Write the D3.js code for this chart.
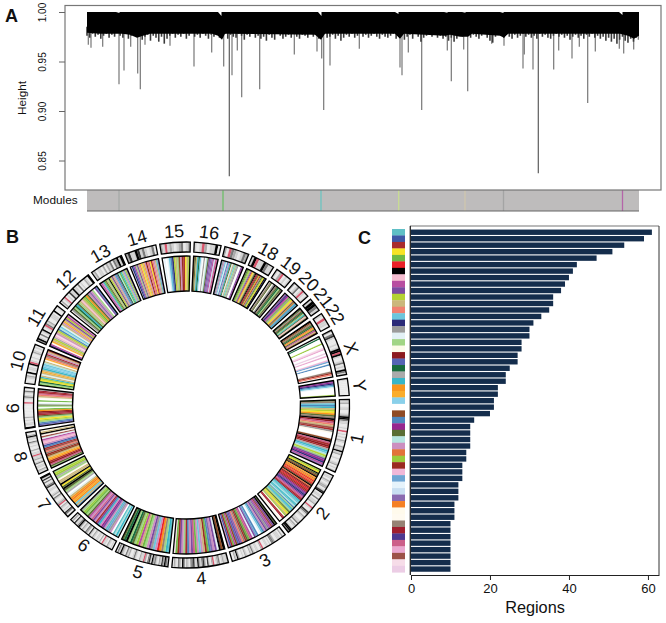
<!DOCTYPE html>
<html>
<head>
<meta charset="utf-8">
<script src="https://cdn.jsdelivr.net/npm/d3@7"></script>
<style>
  body { margin: 0; background: #fff; }
  text { font-family: "Liberation Sans", Arial, sans-serif; fill: #111; }
</style>
</head>
<body>
<svg id="fig" width="666" height="623"></svg>
<script>
// panel A: leaf rank and merge height of the long dendrogram branches
var spikeLeaves = [13, 40, 157, 320, 370, 507, 533, 437, 580, 830, 1070, 1247, 1367, 1423, 1450, 1503, 1547, 1727, 2073, 2300, 2347, 2367, 2430, 2723, 3130, 3150, 3213, 3347, 3603, 3643, 3767, 3807, 4047, 4170, 4360, 4373, 4460, 4513, 4667, 4717, 4850, 4923, 5007, 5083, 5323, 5367, 5467, 5513];
var spikeHeights = [0.967, 0.964, 0.965, 0.927, 0.941, 0.938, 0.922, 0.965, 0.967, 0.966, 0.945, 0.959, 0.945, 0.834, 0.936, 0.961, 0.914, 0.922, 0.957, 0.96, 0.953, 0.901, 0.946, 0.963, 0.944, 0.936, 0.959, 0.901, 0.961, 0.93, 0.962, 0.92, 0.968, 0.966, 0.943, 0.957, 0.942, 0.837, 0.942, 0.961, 0.953, 0.965, 0.908, 0.96, 0.963, 0.958, 0.962, 0.972];

// lower edge of the solid part of the dendrogram
var baseLeaves = [0, 130, 300, 350, 430, 500, 560, 630, 1130, 1250, 1310, 1350, 1380, 2280, 2340, 2380, 3080, 3130, 3170, 3580, 3630, 3730, 3810, 3850, 4130, 4170, 4210, 5330, 5410, 5470, 5520];
var baseHeights = [0.979, 0.978, 0.978, 0.978, 0.977, 0.974, 0.976, 0.978, 0.978, 0.978, 0.976, 0.972, 0.978, 0.977, 0.972, 0.978, 0.978, 0.973, 0.978, 0.976, 0.977, 0.975, 0.975, 0.978, 0.976, 0.974, 0.978, 0.978, 0.976, 0.973, 0.976];

// the short grey branches under the solid part, left to right
var fringeHeights = [976, 974, 978, 975, 977, 973, 976, 978, 974, 977, 975, 979, 976, 974, 978, 973, 976, 978, 975, 977, 972, 975, 977, 971, 976, 974, 970, 975, 968, 973, 976, 978, 974, 977, 975, 978, 973, 976, 979, 975, 977, 974, 978, 976, 973, 977, 975, 979, 974, 976, 978, 973, 977, 975, 974, 978, 976, 972, 977, 975, 978, 974, 976, 973, 975, 971, 977, 974, 972, 978, 976, 973, 975, 977, 974, 978, 975, 973, 977, 976, 974, 978, 975, 977, 973, 976, 978, 974, 975, 977, 973, 976, 971, 974, 977, 975, 978, 974, 976, 979, 975, 977, 974, 976, 978, 975, 973, 977, 975, 974, 976, 978, 973, 975, 977, 972, 975, 977, 973, 978, 975, 970, 974, 976, 978, 975, 977, 974, 976, 973, 975, 971, 974, 970, 973, 977, 975, 978, 976, 974, 977, 975, 973, 976, 978, 974, 971, 969, 975, 978, 976, 974, 977, 975, 973, 977, 974, 976, 978, 975, 977, 974, 976, 973, 978, 975, 977, 974, 973, 976, 978, 975, 977, 974, 976, 972, 975, 977, 974, 976, 973, 977, 975, 978, 974, 976, 973, 975, 971, 974, 970, 973, 968, 972, 975, 971, 969, 973, 970, 974];

// small white gaps at the top of the dendrogram
var notchLeaves = [320, 1340, 2340, 3110, 3600, 3780, 4160, 5350];
var notchHeights = [0.999, 0.996, 0.996, 0.998, 0.9993, 0.9993, 0.999, 0.997];

// module colour strip
var moduleLeaves = [320, 1360, 2340, 3117, 3780, 4165, 5355];
var moduleStripes = ["#a6aaa8", "#6cbf68", "#6cc4c0", "#c9dd92", "#cfc6ae", "#a4a4a4", "#b565a9"];
var yTicks = [0.85, 0.9, 0.95, 1];

// panel C
var regionCounts = [61, 59, 54, 51, 47, 42, 41, 40, 39, 38, 36, 36, 35, 33, 31, 30, 30, 28, 28, 27, 27, 25, 24, 24, 22, 22, 21, 21, 20, 16, 15, 15, 15, 15, 14, 14, 13, 13, 13, 12, 12, 12, 11, 11, 11, 10, 10, 10, 10, 10, 10, 10, 10];
var moduleColors = ["#5fbfc6", "#3f57a6", "#a92b2d", "#f7e326", "#6fb944", "#ea2027", "#000000", "#f6bdd1", "#b84ea1", "#7b4ba1", "#b4d334", "#cbb77c", "#f08070", "#6dc6dc", "#2b2a78", "#9b9b9b", "#e3f1f6", "#a1d585", "#fcfbea", "#8c1a1f", "#5665b5", "#186b3d", "#ababab", "#37b6c8", "#f7941d", "#fbad2b", "#8ad0ea", "#ffffff", "#8f4a24", "#4f87bd", "#97268f", "#5a6e34", "#b5e4e0", "#cc8fc0", "#e2733a", "#9acb3c", "#9a2a20", "#f1b8d8", "#6fa5d3", "#e6f3fb", "#c9dff2", "#8a6ab0", "#f58025", "#fffaec", "#fffaf0", "#968274", "#a01e2e", "#4e3890", "#cc5f8a", "#eaa8d0", "#9c5248", "#f6dce8", "#eccde5"];
var moduleCodes = "abcdefghijklmnopqrstuvwxyzA.BCDEFGHIJKLMNOPQRSTUVWXYZ";
var xTicks = [0, 20, 40, 60];

// panel B
var chromNames = ["1", "2", "3", "4", "5", "6", "7", "8", "9", "10", "11", "12", "13", "14", "15", "16", "17", "18", "19", "20", "21", "22", "X", "Y"];
var chromSizes = [249, 242, 198, 190, 182, 171, 159, 145, 138, 134, 135, 133, 114, 107, 102, 90, 83, 80, 59, 64, 47, 51, 156, 57];

// module of each linked region along a chromosome, one letter per region
var chromRegions = [
  "ESnCxlkdyESgtVmlXcpQ...BgVctcwxnFkrjDoiO",
  "kIdgEBgzHyfHfBgHtcfJcDjoUiVcTxanFxaFCrxnrEkdlIRcT.s.",
  "EgjXiOpjGCnq.CLjqiVeEcSmOjuBiecbG",
  "gBgqjGOCeJlGnGeVjGCcrGjJeY",
  "axrSyfGnpjGreliIrEvrgvE",
  "FxFa.GpLaGjDGxjcGjVGiEreIrp",
  "ClnyzPylq.wrEgEdgllRrwIkr",
  "rEVtcyzlBJSmXcCbGhWiqXRgls",
  "OuCrkdrEcTtye.rEq.e.RlmVcTp",
  "ervdkxlqlzlxnAnFlRzmScGlJ",
  "oiRzlkwhYGlkCFnqlGzljkiG",
  "RpErvxErlhlIeyEGOGr.jC",
  "GiGxeElrgkljlGxOvFexrGLkO",
  ".ouirjlmdlzGtmVdcmGlaO",
  ".M.qnCoklrBGJcdlI",
  "BElxvnq.pRFEjOOiNVi",
  "CpGnqCGxEqlnrwp..jD",
  "rEekpjHdlEgTcEzcpEIdgo",
  "RSERpgSEvrES",
  "GjoDiepkdmEHxCa",
  "gEpBvErxEhlg",
  "gBSEvHzEilB",
  ".v...I..YW..Z.W..KL.C....SJm.",
  "jDoCnq.....I"
];

// cytoband stain along each chromosome: 0-5 light to black, r centromere
var chromBands = [
  "01200110012553110010r01010210021151200100120102",
  "0110210122014501103011200r1004310210011302101553",
  "1020111002330101100r200110131200120100251200",
  "2112103210r20140243125114330120350230120",
  "13524120132514302r11200131002130125130",
  "01012011r020110120140230120253114021",
  "2034010120r21001302100110431030415",
  "0120110310211r11020010130115201",
  "50110102000000000r0013101300",
  "100120501105r1010021010",
  "2510301501r3120011105001",
  "0201r0104115110301002105",
  "12011020213032515",
  "2411541310130",
  "21r1210123012",
  "101r201150",
  "20r3210132",
  "15r115311",
  "102r0101",
  "201301r101",
  "15531",
  "10r110",
  "2034100010155r510013010531",
  "100000000"
];

var fig = d3.select("#fig");
fig.append("rect").attr("width", 666).attr("height", 623).attr("fill", "#fff");

function panelLetter(txt, x, y) {
  fig.append("text").text(txt).attr("x", x).attr("y", y)
    .attr("font-size", 18).attr("font-weight", "bold");
}
panelLetter("A", 5, 22);
panelLetter("B", 6, 243);
panelLetter("C", 358, 244);

// ---- panel A
var xLeaf = d3.scaleLinear().domain([0, 5520]).range([87, 639]);
var yHeight = d3.scaleLinear().domain([0.85, 1]).range([160.5, 12]);

var a = fig.append("g");

// module strip
a.append("rect").attr("x", xLeaf(0)).attr("y", 190).attr("width", xLeaf(5520) - xLeaf(0)).attr("height", 21).attr("fill", "#bebcbc");
a.selectAll(".stripe").data(moduleLeaves).enter().append("line")
  .attr("class", "stripe")
  .attr("x1", function(d) { return xLeaf(d); })
  .attr("x2", function(d) { return xLeaf(d); })
  .attr("y1", 190).attr("y2", 211)
  .attr("stroke", function(d, i) { return moduleStripes[i]; })
  .attr("stroke-width", 1.3);
a.append("line").attr("x1", xLeaf(0)).attr("x2", xLeaf(5520)).attr("y1", 211).attr("y2", 211).attr("stroke", "#666");

// branches
a.selectAll(".spike").data(spikeLeaves).enter().append("line")
  .attr("class", "spike")
  .attr("x1", function(d) { return xLeaf(d); })
  .attr("x2", function(d) { return xLeaf(d); })
  .attr("y1", yHeight(1))
  .attr("y2", function(d, i) { return yHeight(spikeHeights[i]); })
  .attr("stroke", function(d, i) { return spikeHeights[i] < 0.85 ? "#5c5c5c" : "#777"; })
  .attr("stroke-width", 1.2);

var xFringe = d3.scaleBand().domain(d3.range(fringeHeights.length)).range([0, 5520]);
a.selectAll(".fringe").data(fringeHeights).enter().append("line")
  .attr("class", "fringe")
  .attr("x1", function(d, i) { return xLeaf(xFringe(i)); })
  .attr("x2", function(d, i) { return xLeaf(xFringe(i)); })
  .attr("y1", yHeight(0.985))
  .attr("y2", function(d) { return yHeight(d / 1000); })
  .attr("stroke", "#3a3a3a")
  .attr("stroke-width", 1.6);

var solid = d3.area()
  .x(function(d) { return xLeaf(d); })
  .y0(yHeight(1))
  .y1(function(d, i) { return yHeight(baseHeights[i]); });
a.append("path").attr("d", solid(baseLeaves)).attr("fill", "#000");

var notch = d3.line()
  .x(function(d) { return xLeaf(d[0]); })
  .y(function(d) { return yHeight(d[1]); });
a.selectAll(".notch").data(notchLeaves).enter().append("path")
  .attr("class", "notch")
  .attr("d", function(d, i) { return notch([[d - 30, 1], [d + 5, 1], [d + 5, notchHeights[i]]]) + "Z"; })
  .attr("fill", "#fff");

// box and axis
a.append("rect").attr("x", 65).attr("y", 5.5).attr("width", 596).attr("height", 184.5)
  .attr("fill", "none").attr("stroke", "#777").attr("stroke-width", 1.2);
var yAxisA = a.append("g").attr("transform", "translate(65,0)")
  .call(d3.axisLeft(yHeight).tickValues(yTicks).tickFormat(d3.format(".2f")).tickSize(6).tickSizeOuter(0));
yAxisA.select(".domain").remove();
yAxisA.selectAll(".tick line").attr("stroke", "#666");
yAxisA.selectAll(".tick text")
  .attr("font-size", 10).attr("font-family", null).attr("fill", "#333")
  .attr("transform", "rotate(-90)").attr("x", 0).attr("y", -19).attr("dy", 0).attr("text-anchor", "middle");

a.append("text").text("Height").attr("font-size", 11.8).attr("text-anchor", "middle")
  .attr("transform", "translate(26,98) rotate(-90)");
a.append("text").text("Modules").attr("font-size", 11.8).attr("x", 33).attr("y", 204);

// ---- panel B
var cx = 186.5, cy = 405;
var deg = Math.PI / 180;
var gapDeg = 1.4;
var degPerMb = (360 - gapDeg * chromSizes.length) / d3.sum(chromSizes);
var ringStart = 88;
var chroms = [];
var at = ringStart;
chromSizes.forEach(function(s, i) {
  chroms.push({ name: chromNames[i], start: at, end: at + s * degPerMb, regions: chromRegions[i], bands: chromBands[i] });
  at += s * degPerMb + gapDeg;
});

var bandGrey = { "0": "#e9e9e9", "1": "#d2d2d2", "2": "#ababab", "3": "#7a7a7a", "4": "#333", "5": "#000", "r": "#d8566c" };
var b = fig.append("g").attr("transform", "translate(" + cx + "," + cy + ")");

var linkArc = d3.arc().innerRadius(114).outerRadius(149);
var bandArc = d3.arc().innerRadius(153).outerRadius(163);

function strips(sel, chr, letters, arc, colorOf) {
  var ang = d3.scaleBand().domain(d3.range(letters.length)).range([chr.start * deg, chr.end * deg]);
  sel.selectAll("path.s").data(letters.split("")).enter().append("path")
    .attr("class", "s")
    .attr("d", function(d, i) { return arc({ startAngle: ang(i), endAngle: ang(i) + ang.bandwidth() }); })
    .attr("fill", colorOf)
    .attr("stroke", colorOf)
    .attr("stroke-width", 0.15);
}

chroms.forEach(function(chr) {
  var sector = b.append("g");
  strips(sector.append("g"), chr, chr.regions, linkArc, function(d) { return moduleColors[moduleCodes.indexOf(d)]; });
  strips(sector.append("g"), chr, chr.bands, bandArc, function(d) { return bandGrey[d]; });

  [linkArc, bandArc].forEach(function(arc) {
    sector.append("path")
      .attr("d", arc({ startAngle: chr.start * deg, endAngle: chr.end * deg }))
      .attr("fill", "none").attr("stroke", "#000").attr("stroke-width", 1.3);
  });

  var mid = (chr.start + chr.end) / 2;
  var rot = mid <= 90 ? mid : mid < 270 ? mid - 180 : mid - 360;
  b.append("text").text(chr.name)
    .attr("font-size", 18).attr("text-anchor", "middle").attr("dominant-baseline", "central")
    .attr("transform", "translate(" + (174 * Math.sin(mid * deg)) + "," + (-174 * Math.cos(mid * deg)) + ") rotate(" + rot + ")");
});

// ---- panel C
var rows = d3.range(regionCounts.length);
var xRegions = d3.scaleLinear().domain([0, 62.8]).range([411, 659]);
var yRows = d3.scaleBand().domain(rows).range([229, 572.3]);
var yBars = d3.scaleBand().domain(rows).range([229, 572.3]).paddingInner(0.17).paddingOuter(0.085);

var c = fig.append("g");
c.selectAll(".swatch").data(rows).enter().append("rect")
  .attr("class", "swatch")
  .attr("x", 392).attr("width", 13)
  .attr("y", function(d) { return yRows(d); })
  .attr("height", yRows.bandwidth() + 0.3)
  .attr("fill", function(d) { return moduleColors[d]; });

c.selectAll(".bar").data(regionCounts).enter().append("rect")
  .attr("class", "bar")
  .attr("x", xRegions(0))
  .attr("y", function(d, i) { return yBars(i); })
  .attr("width", function(d) { return xRegions(d) - xRegions(0); })
  .attr("height", yBars.bandwidth())
  .attr("fill", "#142d4c");

c.append("line").attr("x1", 410).attr("x2", 659).attr("y1", 226).attr("y2", 226).attr("stroke", "#777").attr("stroke-width", 1.2);
c.append("line").attr("x1", 659).attr("x2", 659).attr("y1", 226).attr("y2", 575).attr("stroke", "#333").attr("stroke-width", 1);
c.append("line").attr("x1", 410.3).attr("x2", 410.3).attr("y1", 226).attr("y2", 575).attr("stroke", "#222").attr("stroke-width", 1.3);

var xAxisC = c.append("g").attr("transform", "translate(0,575)")
  .call(d3.axisBottom(xRegions).tickValues(xTicks).tickSize(5).tickSizeOuter(0));
xAxisC.select(".domain").attr("stroke", "#222").attr("stroke-width", 1.2);
xAxisC.selectAll(".tick line").attr("stroke", "#222");
xAxisC.selectAll(".tick text").attr("font-size", 13).attr("font-family", null).attr("fill", "#111").attr("y", 9);

c.append("text").text("Regions").attr("x", 535).attr("y", 613).attr("font-size", 16.3).attr("text-anchor", "middle");
</script>
</body>
</html>
